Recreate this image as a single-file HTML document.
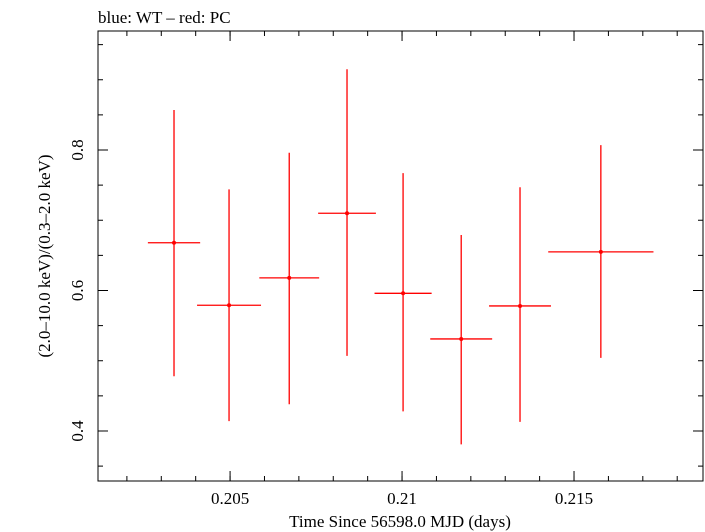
<!DOCTYPE html>
<html><head><meta charset="utf-8"><style>
body{margin:0;background:#fff;}
svg{display:block;font-family:"Liberation Serif",serif;}
</style></head><body>
<svg id="chart" width="705" height="532" viewBox="0 0 705 532" xmlns="http://www.w3.org/2000/svg">
<text x="98" y="23" font-size="17">blue: WT – red: PC</text>
<rect x="98" y="31" width="605" height="450" fill="none" stroke="#000" stroke-width="1"/>
<g id="axes"></g>
<g id="marks"></g>
<text x="400" y="527" font-size="17" text-anchor="middle">Time Since 56598.0 MJD (days)</text>
<text transform="translate(50,256) rotate(-90)" font-size="17" text-anchor="middle">(2.0–10.0 keV)/(0.3–2.0 keV)</text>
</svg>
<script>
const times=[0.20337,0.20497,0.20672,0.2084,0.21003,0.21172,0.21343,0.21578];
const timeErr=[0.00076,0.00093,0.00087,0.00084,0.00083,0.0009,0.0009,0.00153];
const ratios=[0.668,0.579,0.618,0.710,0.596,0.531,0.578,0.655];
const ratioHigh=[0.857,0.744,0.796,0.915,0.767,0.679,0.747,0.807];
const ratioLow=[0.478,0.414,0.438,0.507,0.428,0.381,0.413,0.504];
const xTicks=[0.205,0.21,0.215];
const xTickLabels=["0.205","0.21","0.215"];
const yTicks=[0.4,0.6,0.8];
const yTickLabels=["0.4","0.6","0.8"];
const NS="http://www.w3.org/2000/svg";
const L=98,R=703,T=31,B=481;
const x0=0.20116,x1=0.21875,y0=0.3288,y1=0.9694;
const sx=v=>L+(v-x0)/(x1-x0)*(R-L);
const sy=v=>B-(v-y0)/(y1-y0)*(B-T);
function mk(tag,attrs,parent){const e=document.createElementNS(NS,tag);for(const k in attrs)e.setAttribute(k,attrs[k]);parent.appendChild(e);return e;}
const axes=document.getElementById('axes'),marks=document.getElementById('marks');
for(let v=0.202;v<=0.2185;v+=0.001){const px=sx(v);
 let t=mk('line',{x1:px,x2:px,y1:B,y2:B-5,stroke:'#000'},axes);
 
 
 t=mk('line',{x1:px,x2:px,y1:T,y2:T+5,stroke:'#000'},axes);
 
 }
for(let v=0.35;v<=0.96;v+=0.05){const py=sy(v);
 let t=mk('line',{x1:L,x2:L+5,y1:py,y2:py,stroke:'#000'},axes);
 
 
 t=mk('line',{x1:R,x2:R-5,y1:py,y2:py,stroke:'#000'},axes);
 
 }
xTicks.forEach((v,i)=>{const px=sx(v);
 let t=mk('line',{x1:px,x2:px,y1:B,y2:B-10,stroke:'#000'},axes);
 
 
 t=mk('line',{x1:px,x2:px,y1:T,y2:T+10,stroke:'#000'},axes);
 
 
 const tx=mk('text',{x:px,y:504,'font-size':17,'text-anchor':'middle'},axes);tx.textContent=xTickLabels[i];
 
 });
yTicks.forEach((v,i)=>{const py=sy(v);
 let t=mk('line',{x1:L,x2:L+10,y1:py,y2:py,stroke:'#000'},axes);
 
 
 t=mk('line',{x1:R,x2:R-10,y1:py,y2:py,stroke:'#000'},axes);
 
 
 const tx=mk('text',{transform:`translate(83,${py}) rotate(-90)`,'font-size':17,'text-anchor':'middle'},axes);tx.textContent=yTickLabels[i];
 
 });
times.forEach((t,i)=>{
 const g=mk('g',{},marks);
 
 
 mk('line',{x1:sx(t-timeErr[i]),x2:sx(t+timeErr[i]),y1:sy(ratios[i]),y2:sy(ratios[i]),stroke:'#f00','stroke-width':1.3},g);
 mk('line',{x1:sx(t),x2:sx(t),y1:sy(ratioHigh[i]),y2:sy(ratioLow[i]),stroke:'#f00','stroke-width':1.3},g);
 mk('circle',{cx:sx(t),cy:sy(ratios[i]),r:2,fill:'#f00'},g);
});
</script>
</body></html>
